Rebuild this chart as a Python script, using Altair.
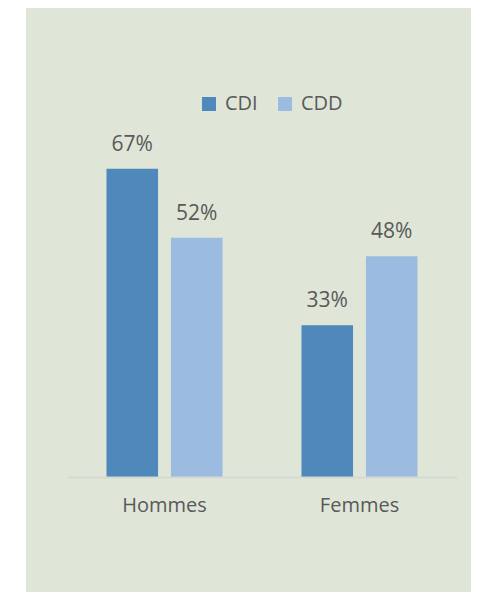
import altair as alt
import pandas as pd

categories = ["Hommes", "Femmes"]
contracts = ["CDI", "CDD"]
cdi_values = [0.67, 0.33]
cdd_values = [0.52, 0.48]

rows = []
for i, cat in enumerate(categories):
    rows.append({"genre": cat, "contrat": "CDI", "part": cdi_values[i]})
    rows.append({"genre": cat, "contrat": "CDD", "part": cdd_values[i]})
df = pd.DataFrame(rows)

FONT = "Open Sans"
TXT = "#595959"
BG = "#DFE6D8"

bg = alt.Chart(pd.DataFrame({"k": [0]})).mark_rect(color=BG).encode(
    x=alt.value(-41), x2=alt.value(404), y=alt.value(-101), y2=alt.value(483)
)

base = alt.Chart(df).encode(
    x=alt.X("genre:N", sort=categories, title=None,
            scale=alt.Scale(paddingInner=0.405, paddingOuter=0.2025),
            axis=alt.Axis(labelAngle=0, labelFont=FONT, labelFontSize=20, labelColor=TXT,
                          labelPadding=18, ticks=False, domainColor="#D5D9D2", domainWidth=2,
                          grid=False, zindex=1)),
    xOffset=alt.XOffset("contrat:N", sort=contracts,
                        scale=alt.Scale(paddingInner=0.2, paddingOuter=0)),
    y=alt.Y("part:Q", scale=alt.Scale(domain=[0, 0.8]), axis=None),
)

bars = base.mark_bar().encode(
    color=alt.Color("contrat:N", sort=contracts,
                    scale=alt.Scale(domain=contracts, range=["#4F88BB", "#9BBBE0"]),
                    legend=alt.Legend(title=None, orient="none", direction="horizontal",
                                      legendX=132, legendY=-15, padding=0, zindex=1,
                                      symbolType="square", symbolSize=196, symbolStrokeWidth=0,
                                      labelFont=FONT, labelFontSize=20, labelColor=TXT,
                                      labelOffset=6, columnPadding=17))
)

labels = base.mark_text(baseline="bottom", dy=-14, font=FONT, fontSize=21, color=TXT).encode(
    text=alt.Text("part:Q", format=".0%")
)

chart = alt.layer(bg, bars, labels).properties(
    width=390, height=368,
    padding={"left": 18, "top": 0, "right": 0, "bottom": 0},
    background="white",
).configure_view(stroke=None)

chart.save("out.html", embed_options={"renderer": "svg", "actions": False})
